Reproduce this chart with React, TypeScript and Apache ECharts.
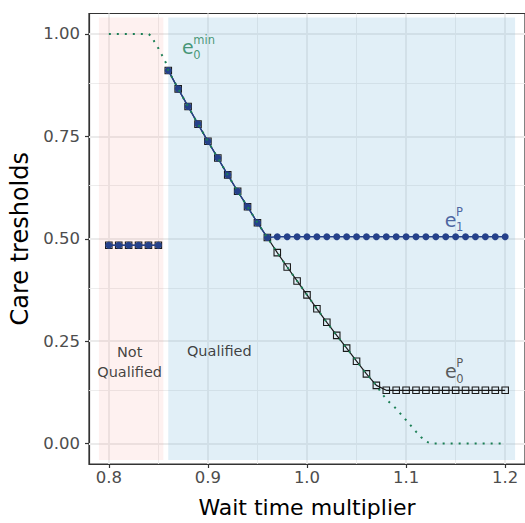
import React, { useEffect, useRef } from "react";
import * as echarts from "echarts";

// ---- data ----
const xLeft = [0.8, 0.81, 0.82, 0.83, 0.84, 0.85];
const e1pLeft = [0.484, 0.484, 0.484, 0.484, 0.484, 0.484];
const e0pLeft = [0.484, 0.484, 0.484, 0.484, 0.484, 0.484];

const xRight = [
  0.86, 0.87, 0.88, 0.89, 0.9, 0.91, 0.92, 0.93, 0.94, 0.95, 0.96, 0.97, 0.98, 0.99, 1.0, 1.01, 1.02, 1.03,
  1.04, 1.05, 1.06, 1.07, 1.08, 1.09, 1.1, 1.11, 1.12, 1.13, 1.14, 1.15, 1.16, 1.17, 1.18, 1.19, 1.2,
];
const e1pRight = [
  0.911, 0.866, 0.823, 0.78, 0.738, 0.697, 0.656, 0.616, 0.578, 0.539, 0.503, 0.505, 0.505, 0.505, 0.505,
  0.505, 0.505, 0.505, 0.505, 0.505, 0.505, 0.505, 0.505, 0.505, 0.505, 0.505, 0.505, 0.505, 0.505, 0.505,
  0.505, 0.505, 0.505, 0.505, 0.505,
];
const e0pRight = [
  0.911, 0.866, 0.823, 0.78, 0.738, 0.697, 0.656, 0.616, 0.578, 0.539, 0.503, 0.466, 0.431, 0.397, 0.363,
  0.329, 0.296, 0.264, 0.233, 0.201, 0.17, 0.142, 0.13, 0.13, 0.13, 0.13, 0.13, 0.13, 0.13, 0.13, 0.13, 0.13,
  0.13, 0.13, 0.13,
];

const eminX = [
  0.8, 0.81, 0.82, 0.83, 0.84, 0.843, 0.846, 0.85, 0.8535, 0.8575, 0.86, 0.87, 0.88, 0.89, 0.9, 0.91, 0.92,
  0.93, 0.94, 0.95, 0.96, 0.97, 0.98, 0.99, 1.0, 1.01, 1.02, 1.03, 1.04, 1.05, 1.06, 1.07, 1.075, 1.08, 1.09,
  1.1, 1.11, 1.115, 1.12, 1.125, 1.13, 1.14, 1.15, 1.16, 1.17, 1.18, 1.19, 1.2,
];
const eminY = [
  1, 1, 1, 1, 1, 0.995, 0.981, 0.965, 0.949, 0.93, 0.911, 0.866, 0.823, 0.78, 0.738, 0.697, 0.656, 0.616,
  0.578, 0.539, 0.503, 0.466, 0.431, 0.397, 0.363, 0.329, 0.296, 0.264, 0.233, 0.201, 0.17, 0.142, 0.124,
  0.108, 0.085, 0.057, 0.029, 0.016, 0.005, 0, 0, 0, 0, 0, 0, 0, 0, 0,
];

const xTicks = [0.8, 0.9, 1.0, 1.1, 1.2];
const xMinor = [0.85, 0.95, 1.05, 1.15];
const yTicks = [0, 0.25, 0.5, 0.75, 1];
const yMinor = [0.125, 0.375, 0.625, 0.875];

const regionNames = ["Not\nQualified", "Qualified"];
const regionFrom = [0.79, 0.86];
const regionTo = [0.855, 1.21];
const regionLow = -0.04;
const regionHigh = 1.04;

// ---- styles ----
const GREEN = "#1b7f55";
const NAVY = "#25418a";
const BLACK = "#1a1a1a";
const FONT = "DejaVu Sans";
const GRIDC = "#ebebeb";

export default function App() {
  const ref = useRef<HTMLDivElement>(null);
  useEffect(() => {
    const chart = echarts.init(ref.current!, null, { renderer: "svg" });
    const pairs = (xs: number[], ys: number[]) => xs.map((x, i) => [x, ys[i]]);

    const major = { color: GRIDC, width: 1.8, type: "solid" };
    const minor = { color: GRIDC, width: 0.9, type: "solid" };

    const e0pStyle = {
      type: "line",
      symbol: "rect",
      symbolSize: 6.5,
      showAllSymbol: true,
      lineStyle: { color: BLACK, width: 1.2 },
      itemStyle: { color: "rgba(0,0,0,0)", borderColor: BLACK, borderWidth: 1.1 },
      z: 3,
      silent: true,
    };
    const e1pStyle = {
      type: "line",
      symbol: "circle",
      symbolSize: 7,
      showAllSymbol: true,
      lineStyle: { color: NAVY, width: 1.4 },
      itemStyle: { color: NAVY, borderWidth: 0 },
      z: 4,
      silent: true,
    };

    const lab = (x: number, y: number, text: string, size: number, color: string, dx: number, dy: number, align: string) => ({
      value: [x, y],
      label: {
        show: true,
        position: "inside",
        formatter: text,
        fontSize: size,
        fontFamily: FONT,
        color,
        align,
        verticalAlign: "middle",
        offset: [dx, dy],
        lineHeight: 20,
      },
    });

    chart.setOption({
      animation: false,
      grid: {
        left: 89,
        top: 13.5,
        width: 439.5,
        height: 452,
        show: true,
        borderColor: "#333",
        borderWidth: 1.2,
        backgroundColor: "#fff",
      },
      xAxis: {
        type: "value",
        min: 0.78,
        max: 1.22,
        axisLine: { show: true, onZero: false, lineStyle: { color: "#333", width: 1.2 } },
        axisTick: { show: true, length: 4, customValues: xTicks, lineStyle: { color: "#333", width: 1.2 } },
        axisLabel: {
          customValues: xTicks,
          formatter: (v: number) => v.toFixed(1),
          color: "#4d4d4d",
          fontSize: 16.5,
          fontFamily: FONT,
          margin: 5,
        },
        splitLine: { show: false },
        name: "Wait time multiplier",
        nameLocation: "middle",
        nameGap: 32,
        nameTextStyle: { fontSize: 22, color: "#000", fontFamily: FONT },
      },
      yAxis: {
        type: "value",
        min: -0.05,
        max: 1.05,
        axisLine: { show: true, onZero: false, lineStyle: { color: "#333", width: 1.2 } },
        axisTick: { show: true, length: 4, customValues: yTicks, lineStyle: { color: "#333", width: 1.2 } },
        axisLabel: {
          customValues: yTicks,
          formatter: (v: number) => v.toFixed(2),
          color: "#4d4d4d",
          fontSize: 16.5,
          fontFamily: FONT,
          margin: 9,
        },
        splitLine: { show: false },
        name: "Care tresholds",
        nameLocation: "middle",
        nameGap: 49,
        nameTextStyle: { fontSize: 24, color: "#000", fontFamily: FONT },
      },
      series: [
        {
          type: "line",
          data: [],
          z: 1,
          silent: true,
          markLine: {
            z: 1,
            silent: true,
            symbol: ["none", "none"],
            label: { show: false },
            animation: false,
            data: [
              ...xMinor.map((v) => ({ xAxis: v, lineStyle: minor })),
              ...yMinor.map((v) => ({ yAxis: v, lineStyle: minor })),
              ...xTicks.map((v) => ({ xAxis: v, lineStyle: major })),
              ...yTicks.map((v) => ({ yAxis: v, lineStyle: major })),
            ],
          },
        },
        {
          type: "line",
          data: [],
          z: 2,
          silent: true,
          markArea: {
            z: 2,
            silent: true,
            animation: false,
            data: [
              [
                { xAxis: regionFrom[0], yAxis: regionLow, itemStyle: { color: "rgba(248,118,109,0.1)" } },
                { xAxis: regionTo[0], yAxis: regionHigh },
              ],
              [
                { xAxis: regionFrom[1], yAxis: regionLow, itemStyle: { color: "rgba(107,174,214,0.2)" } },
                { xAxis: regionTo[1], yAxis: regionHigh },
              ],
            ],
          },
        },
        { ...e0pStyle, name: "e0P-left", data: pairs(xLeft, e0pLeft) },
        { ...e0pStyle, name: "e0P-right", data: pairs(xRight, e0pRight) },
        { ...e1pStyle, name: "e1P-left", data: pairs(xLeft, e1pLeft) },
        { ...e1pStyle, name: "e1P-right", data: pairs(xRight, e1pRight) },
        {
          type: "line",
          name: "e0min",
          data: pairs(eminX, eminY),
          symbol: "none",
          lineStyle: { color: GREEN, width: 2, type: [2, 6] },
          z: 5,
          silent: true,
        },
        {
          type: "scatter",
          symbolSize: 1,
          itemStyle: { color: "rgba(0,0,0,0)" },
          z: 6,
          silent: true,
          data: [
            lab(0.821, 0.2, regionNames[0], 14.5, "#111", 0, 0, "center"),
            lab(0.9115, 0.225, regionNames[1], 14.5, "#111", 0, 0, "center"),
            lab(0.8797, 0.968, "e", 19, GREEN, 0, 0, "center"),
            lab(0.8797, 0.968, "min", 11.5, GREEN, 5.5, -7, "left"),
            lab(0.8797, 0.968, "0", 11.5, GREEN, 5.5, 8, "left"),
            lab(1.1448, 0.546, "e", 19, NAVY, 0, 0, "center"),
            lab(1.1448, 0.546, "P", 11.5, NAVY, 5.5, -8, "left"),
            lab(1.1448, 0.546, "1", 11.5, NAVY, 5.5, 7.5, "left"),
            lab(1.1451, 0.177, "e", 19, "#333", 0, 0, "center"),
            lab(1.1451, 0.177, "P", 11.5, "#333", 5.5, -8, "left"),
            lab(1.1451, 0.177, "0", 11.5, "#333", 5.5, 8, "left"),
          ],
        },
      ],
    });
    return () => chart.dispose();
  }, []);
  return <div ref={ref} style={{ position: "absolute", left: 0, top: 0, width: 525, height: 523 }} />;
}
